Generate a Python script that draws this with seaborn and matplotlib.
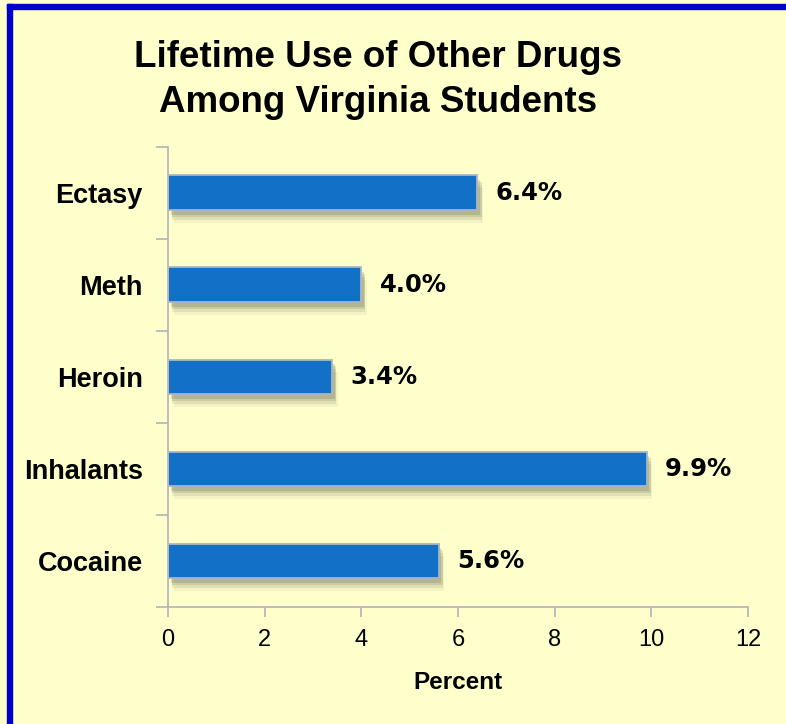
import matplotlib
matplotlib.use("Agg")
import matplotlib.pyplot as plt
import matplotlib.patheffects as pe
from matplotlib.patches import Rectangle
from matplotlib.ticker import FixedLocator
import seaborn as sns
import pandas as pd

drugs = ["Ectasy", "Meth", "Heroin", "Inhalants", "Cocaine"]
percent = [6.4, 4.0, 3.4, 9.9, 5.6]
x_ticks = [0, 2, 4, 6, 8, 10, 12]

df = pd.DataFrame({"drug": drugs, "percent": percent})

bg = "#FFFFCC"
bar_color = "#1270C6"
axis_gray = "#B8B8C0"

sns.set_theme(style="white")
plt.rcParams["font.family"] = ["Liberation Sans", "DejaVu Sans"]
plt.rcParams["text.color"] = "black"
plt.rcParams["xtick.color"] = "black"
plt.rcParams["ytick.color"] = "black"
plt.rcParams["axes.labelcolor"] = "black"

fig = plt.figure(figsize=(7.86, 7.24), dpi=100, facecolor=bg)
ax = fig.add_axes([0.2137, 0.1616, 0.7380, 0.6354])
ax.set_facecolor(bg)

sns.barplot(data=df, x="percent", y="drug", order=drugs, orient="h",
            color=bar_color, width=0.38, saturation=1, ax=ax,
            edgecolor="#A9B6C2", linewidth=1.3)

# soft drop shadow built from stacked translucent copies
shadow = [
    pe.SimplePatchShadow(offset=(dx, -dy), shadow_rgbFace="#4F5440", alpha=a)
    for dx, dy, a in [(4, 9, 0.07), (3, 7, 0.11), (3, 5, 0.15), (2, 3, 0.18)]
]
for p in ax.patches:
    p.set_path_effects(shadow + [pe.Normal()])

# value labels
for i, v in enumerate(percent):
    ax.text(v + 0.38, i, f"{v:.1f}%", va="center", ha="left",
            fontsize=17.5, fontweight="bold", family="DejaVu Sans", color="black")

ax.set_xlim(0, 12)
ax.set_ylim(4.5, -0.5)
ax.set_xticks(x_ticks)
ax.set_xticklabels([str(t) for t in x_ticks], fontsize=17)
ax.set_xlabel("Percent", fontsize=17.5, fontweight="bold", labelpad=14)
ax.set_ylabel("")
ax.set_yticks(range(len(drugs)))
ax.set_yticklabels(drugs, fontsize=19.5, fontweight="bold")
ax.yaxis.set_minor_locator(FixedLocator([-0.5, 0.5, 1.5, 2.5, 3.5, 4.5]))
ax.tick_params(axis="y", which="major", length=0, pad=18)
ax.tick_params(axis="y", which="minor", length=9, width=1.3, color=axis_gray, left=True)
ax.tick_params(axis="x", which="major", length=7, width=1.3, color=axis_gray,
               bottom=True, pad=9)

for side in ["top", "right"]:
    ax.spines[side].set_visible(False)
for side in ["left", "bottom"]:
    ax.spines[side].set_color(axis_gray)
    ax.spines[side].set_linewidth(1.3)

fig.text(0.481, 1 - 67 / 724, "Lifetime Use of Other Drugs", ha="center",
         va="baseline", fontsize=26.5, fontweight="bold")
fig.text(0.481, 1 - 112 / 724, "Among Virginia Students", ha="center",
         va="baseline", fontsize=26.5, fontweight="bold")

# frame on the top and left edges
fig.patches.append(Rectangle((7 / 786, 0), 5 / 786, 1 - 4 / 724,
                             transform=fig.transFigure, color="#0000CC", zorder=10))
fig.patches.append(Rectangle((7 / 786, 1 - 9 / 724), 1, 5 / 724,
                             transform=fig.transFigure, color="#0000CC", zorder=10))

fig.savefig("out.png", dpi=100, facecolor=bg)
